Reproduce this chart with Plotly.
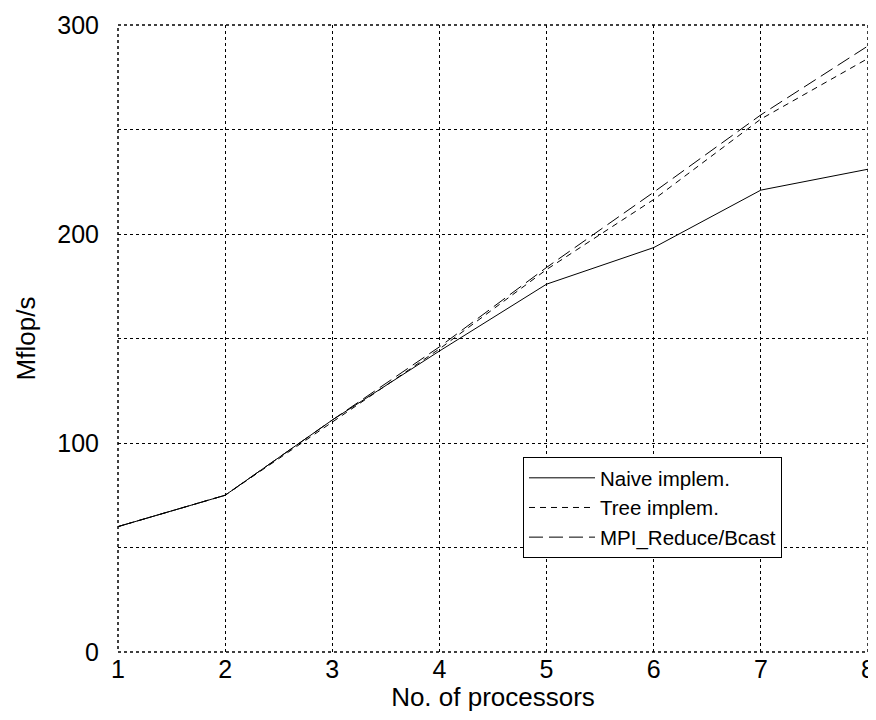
import plotly.graph_objects as go

processors = [1, 2, 3, 4, 5, 6, 7, 8]
naive = [60, 75, 111, 144, 176, 193.5, 221, 231]
tree = [60, 75, 110, 145, 183, 216.5, 255, 284]
mpi = [60, 75, 111, 146, 184, 220, 257, 290]

x_ticks = [1, 2, 3, 4, 5, 6, 7, 8]
y_ticks = [0, 100, 200, 300]

FONT = "Liberation Sans, Arial, Helvetica, sans-serif"

fig = go.Figure()
fig.add_trace(go.Scatter(x=processors, y=naive, mode="lines", name="Naive implem.",
                         line=dict(color="black", width=1)))
fig.add_trace(go.Scatter(x=processors, y=tree, mode="lines", name="Tree implem.",
                         line=dict(color="black", width=1, dash="6px,5px")))
fig.add_trace(go.Scatter(x=processors, y=mpi, mode="lines", name="MPI_Reduce/Bcast",
                         line=dict(color="black", width=1, dash="14px,6px")))

fig.add_shape(type="rect", xref="paper", yref="paper", x0=0, y0=0, x1=1, y1=1,
              line=dict(color="black", width=1.5, dash="dot"), layer="above")

# page body has an 8px margin, so the figure is sized/offset to compensate
fig.update_layout(
    width=868, height=704,
    margin=dict(l=110, r=8, t=17, b=60),
    paper_bgcolor="white", plot_bgcolor="white",
    font=dict(family=FONT, size=22, color="black"),
    showlegend=True,
    legend=dict(x=0.54, y=0.311, xanchor="left", yanchor="top",
                bgcolor="white", bordercolor="black", borderwidth=1,
                font=dict(size=20.5), tracegroupgap=0, itemwidth=66),
    xaxis=dict(range=[1, 8], tickvals=x_ticks, showgrid=True, griddash="dot",
               gridcolor="black", gridwidth=1, zeroline=False, showline=False,
               ticks="", tickfont=dict(size=25), automargin=False,
               title=dict(text="No. of processors", standoff=11)),
    yaxis=dict(range=[0, 300], tickvals=y_ticks, showgrid=True, griddash="dot",
               gridcolor="black", gridwidth=1, zeroline=False, showline=False,
               ticks="outside", ticklen=13, tickcolor="rgba(0,0,0,0)",
               tickfont=dict(size=25), automargin=False,
               minor=dict(tickvals=[50, 150, 250], showgrid=True, griddash="dot",
                          gridcolor="black", gridwidth=1),
               title=dict(text="Mflop/s", standoff=14)),
)

fig.write_html("out.html")
